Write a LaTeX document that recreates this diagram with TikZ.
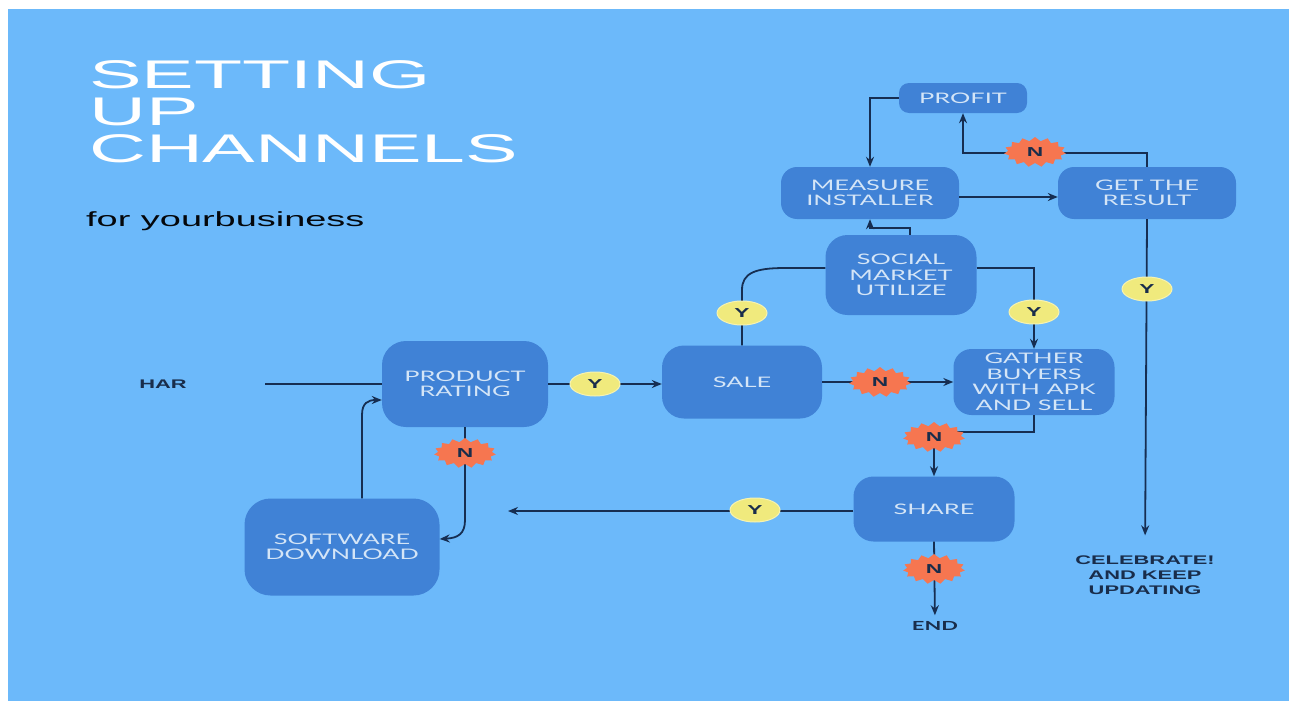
\documentclass[tikz,border=0pt]{standalone}
\usepackage{fontspec}
\setmainfont{Lato}[FakeStretch=1.75]
\newfontfamily\latob{Lato Bold}[FakeStretch=1.75]
\newfontfamily\titlef{Liberation Sans}[FakeStretch=1.97]
\newfontfamily\subf{Liberation Sans}[FakeStretch=1.85]
\newfontfamily\arialb{Liberation Sans Bold}[FakeStretch=1.75]
\usetikzlibrary{shapes.symbols,shapes.geometric,arrows.meta,calc}
\definecolor{bg}{RGB}{108,185,250}
\definecolor{boxc}{RGB}{64,130,214}
\definecolor{boxtxt}{RGB}{212,229,247}
\definecolor{linec}{RGB}{22,46,82}
\definecolor{yfill}{RGB}{240,234,125}
\definecolor{nfill}{RGB}{246,118,80}
\definecolor{darktxt}{RGB}{25,45,75}
\tikzset{
  box/.style={draw=none, fill=boxc, text=boxtxt, align=center,
    font=\fontsize{14.5}{15.5}\selectfont, inner sep=0pt},
  ymark/.style={ellipse, fill=yfill, draw=yfill!60!white, line width=1pt,
    minimum width=50pt, minimum height=24pt, inner sep=0pt,
    font=\arialb\fontsize{13}{13}\selectfont, text=darktxt},
  nmark/.style={starburst, starburst points=15, starburst point height=4pt,
    random starburst=0, fill=nfill, draw=none, minimum width=62pt,
    minimum height=30pt, inner sep=0pt,
    font=\arialb\fontsize{13}{13}\selectfont, text=darktxt},
  conn/.style={draw=linec, line width=1.8pt},
  arr/.style={conn, -{Stealth[length=10pt,width=8pt]}},
  lbl/.style={text=darktxt, font=\arialb\fontsize{12.5}{15}\selectfont, align=center, inner sep=0pt},
  titleline/.style={anchor=base west, inner sep=0pt, text=white, text height=28pt, text depth=0pt,
    font=\titlef\fontsize{40}{37}\selectfont}
}
\begin{document}
\begin{tikzpicture}[x=1pt,y=-1pt]
\useasboundingbox (0,0) rectangle (1289,701);
\fill[white] (0,0) rectangle (1289,701);
\fill[bg] (8,9) rectangle (1289,701);

% title
\node[titleline] (t1) at (89,88) {SETTING};
\node[titleline] (t2) at (89,125) {UP};
\node[titleline] (t3) at (89,162) {CHANNELS};
\node[anchor=west, inner sep=0pt, text=black!85!darktxt,
  font=\subf\fontsize{20.5}{20}\selectfont] (sub) at (86,221) {for yourbusiness};

% boxes
\node[box, minimum width=166pt, minimum height=86pt, rounded corners=24pt] (pr) at (465,384) {PRODUCT\\RATING};
\node[box, minimum width=160pt, minimum height=73pt, rounded corners=22pt] (sale) at (742,382) {SALE};
\node[box, minimum width=151pt, minimum height=80pt, rounded corners=22pt] (soc) at (901,275) {SOCIAL\\MARKET\\UTILIZE};
\node[box, minimum width=178pt, minimum height=52pt, rounded corners=16pt] (mea) at (870,193) {MEASURE\\INSTALLER};
\node[box, minimum width=128pt, minimum height=30pt, rounded corners=10pt] (pro) at (963,98) {PROFIT};
\node[box, minimum width=178pt, minimum height=52pt, rounded corners=16pt] (get) at (1147,193) {GET THE\\RESULT};
\node[box, minimum width=161pt, minimum height=66pt, rounded corners=18pt] (gat) at (1034,382) {GATHER\\BUYERS\\WITH APK\\AND SELL};
\node[box, minimum width=161pt, minimum height=65pt, rounded corners=20pt] (sha) at (934,509) {SHARE};
\node[box, minimum width=195pt, minimum height=97pt, rounded corners=26pt] (sd) at (342,547) {SOFTWARE\\DOWNLOAD};

% plain labels
\node[lbl] (har) at (163,384) {HAR};
\node[lbl, font=\latob\fontsize{12.5}{15}\selectfont] (end) at (935,626) {END};
\node[lbl] (cel) at (1145,575) {CELEBRATE!\\AND KEEP\\UPDATING};
\coordinate (harend) at (265,384);
\coordinate (leftend) at (508,511);

% connectors
\draw[conn, line width=1.4pt] (harend) -- (pr.west);
\draw[arr] ($(sd.north)+(20,0)$) -- (362,415) .. controls (362,403) and (368,400) .. ($(pr.west)+(0,16)$);
\draw[arr] (pr.south) -- (465,520) .. controls (465,534) and (458,538) .. ($(sd.east)+(0,-8)$);
\draw[arr, line width=1.4pt] (pr.east) -- (pr.east -| sale.west);
\draw[conn] (sale.north) -- (742,290) .. controls (742,273) and (755,268) .. (785,268) -- ($(soc.west)+(0,-7)$);
\draw[arr, line width=1.4pt] (sale.east) -- (sale.east -| gat.west);
\draw[arr] ($(soc.east)+(0,-7)$) -| (gat.north);
\draw[arr] ($(soc.north)+(9,0)$) -- ++(0,-7) -| (mea.south);
\draw[arr, line width=1.4pt] ($(mea.east)+(0,4)$) -- ($(get.west)+(0,4)$);
\draw[arr] (get.north) -- ++(0,-14) -| (pro.south);
\draw[arr] (pro.west) -| (mea.north);
\draw[arr] (gat.south) -- ++(0,17) -| (sha.north);
\draw[arr, line width=1.4pt] ($(sha.west)+(0,2)$) -- (leftend);
\draw[arr, shorten >=6pt] (sha.south) -- (end.north);
\draw[arr, shorten >=20pt] (get.south) -- (cel.north);

% decision marks
\node[ymark] (y1) at (595,384) {Y};
\node[ymark] (y2) at (742,313) {Y};
\node[ymark] (y3) at (1034,312) {Y};
\node[ymark] (y4) at (755,510) {Y};
\node[ymark] (y5) at (1147,289) {Y};
\node[nmark] (n1) at (465,453) {N};
\node[nmark] (n2) at (880,382) {N};
\node[nmark] (n3) at (1035,152) {N};
\node[nmark] (n4) at (934,437) {N};
\node[nmark] (n5) at (934,569) {N};
\end{tikzpicture}
\end{document}
